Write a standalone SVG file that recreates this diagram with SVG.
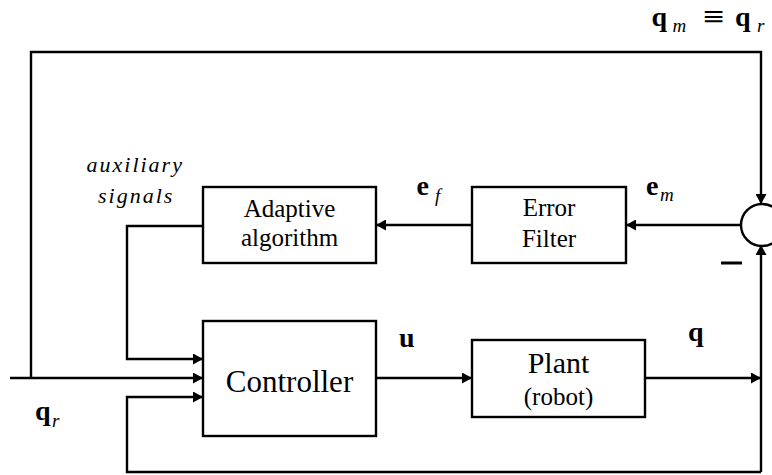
<svg xmlns="http://www.w3.org/2000/svg" width="772" height="475" viewBox="0 0 772 475">
  <defs>
    <marker id="arrow" viewBox="0 0 10 11" refX="10" refY="5.5" markerWidth="10" markerHeight="11" markerUnits="userSpaceOnUse" orient="auto">
      <path d="M0,0 L10,5.5 L0,11 Z" fill="#000"/>
    </marker>
  </defs>
  <style>
    .box { fill: #fff; stroke: #000; stroke-width: 2.4; }
    .wire { fill: none; stroke: #000; stroke-width: 2.4; }
    .blk { font-size: 25px; text-anchor: middle; }
    .vec { font-size: 28px; font-weight: bold; }
    .sub { font-size: 19px; font-style: italic; }
    .aux { font-size: 22px; font-style: italic; letter-spacing: 2px; }
  </style>

  <rect width="772" height="475" fill="#fff"/>

  <!-- signal lines -->
  <g id="connectors">
    <!-- reference input into controller -->
    <path class="wire" d="M10,378 L203,378" marker-end="url(#arrow)"/>
    <!-- reference branch over the top to the summing junction -->
    <path class="wire" d="M31,378 L31,52 L761,52 L761,204" marker-end="url(#arrow)"/>
    <!-- measured output fed back up to the junction -->
    <path class="wire" d="M761,472 L761,245" marker-end="url(#arrow)"/>
    <!-- junction to error filter -->
    <path class="wire" d="M741,225 L626,225" marker-end="url(#arrow)"/>
    <!-- error filter to adaptive algorithm -->
    <path class="wire" d="M472,225 L376,225" marker-end="url(#arrow)"/>
    <!-- auxiliary signals into controller -->
    <path class="wire" d="M203,226 L127,226 L127,359 L203,359" marker-end="url(#arrow)"/>
    <!-- state feedback into controller -->
    <path class="wire" d="M761,472 L127,472 L127,397 L203,397" marker-end="url(#arrow)"/>
    <!-- control effort to plant -->
    <path class="wire" d="M376,378 L472,378" marker-end="url(#arrow)"/>
    <!-- plant output -->
    <path class="wire" d="M645,378 L761,378" marker-end="url(#arrow)"/>
  </g>

  <g font-family="Liberation Serif, Times New Roman, serif" fill="#000">
    <g id="summing-junction">
      <circle cx="762" cy="225" r="21" fill="#fff" stroke="#000" stroke-width="2.4"/>
      <line x1="721" y1="263" x2="742" y2="263" stroke="#000" stroke-width="3"/>
    </g>

    <g id="adaptive-algorithm">
      <rect class="box" x="203" y="187" width="173" height="76"/>
      <text class="blk" x="289.5" y="217">Adaptive</text>
      <text class="blk" x="289.5" y="246">algorithm</text>
    </g>

    <g id="error-filter">
      <rect class="box" x="472" y="187" width="154" height="76"/>
      <text class="blk" x="549" y="216">Error</text>
      <text class="blk" x="549" y="247">Filter</text>
    </g>

    <g id="controller">
      <rect class="box" x="203" y="321" width="173" height="115"/>
      <text x="289.5" y="392" font-size="31" text-anchor="middle">Controller</text>
    </g>

    <g id="plant">
      <rect class="box" x="472" y="340" width="173" height="77"/>
      <text x="558.5" y="373" font-size="30" text-anchor="middle">Plant</text>
      <text x="558.5" y="405" font-size="25" text-anchor="middle">(robot)</text>
    </g>

    <!-- signal labels -->
    <g id="labels">
      <text class="vec" x="651.5" y="26">q</text>
      <text class="sub" x="672.5" y="32">m</text>
      <text transform="translate(714,26) scale(1.35,1)" font-size="28" font-weight="bold" text-anchor="middle">≡</text>
      <text class="vec" x="735" y="26">q</text>
      <text class="sub" x="757" y="32">r</text>

      <text class="aux" x="86.5" y="172">auxiliary</text>
      <text class="aux" x="98" y="203">signals</text>

      <text class="vec" x="416.5" y="195">e</text>
      <text class="sub" x="435" y="202">f</text>

      <text class="vec" x="646" y="195">e</text>
      <text class="sub" x="660" y="201">m</text>

      <text class="vec" x="399" y="346.5">u</text>
      <text class="vec" x="688" y="340.5">q</text>

      <text class="vec" x="35" y="420">q</text>
      <text class="sub" x="52" y="427">r</text>
    </g>
  </g>
</svg>
